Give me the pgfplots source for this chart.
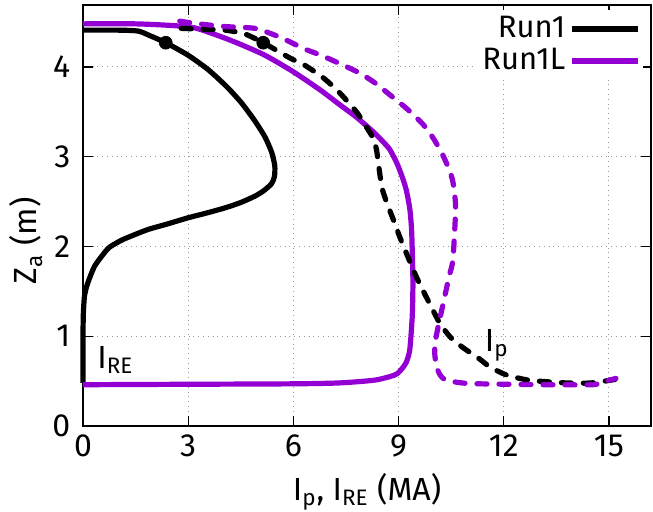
\documentclass[border=0pt]{standalone}
\usepackage{fontspec}
\setmainfont{Fira Sans}
\usepackage{pgfplots}
\pgfplotsset{compat=1.18}
\definecolor{dviolet}{HTML}{9400D3}
\begin{document}
\begin{tikzpicture}
\fontsize{15.5}{18}\selectfont
\begin{axis}[
  name=ax,
  scale only axis,
  width=284pt, height=210.5pt,
  xmin=0, xmax=16.2, ymin=0, ymax=4.69,
  xtick={0,3,6,9,12,15}, ytick={0,1,2,3,4},
  /pgf/number format/assume math mode=true,
  tick label style={font=\fontsize{16}{18}\selectfont},
  yticklabel style={xshift=-1pt},
  xticklabel style={yshift=1pt},
  tick align=inside, major tick length=5pt,
  tick style={black, line width=0.6pt},
  axis line style={line width=0.8pt},
  grid=major,
  major grid style={dotted, gray!80, line width=0.5pt},
  every axis y label/.style={at={(axis description cs:-0.1,0.44)}, rotate=90, anchor=center},
  every axis x label/.style={at={(axis description cs:0.5,-0.157)}, anchor=center},
  xlabel={I\textsubscript{p}, I\textsubscript{RE} (MA)},
  ylabel={Z\textsubscript{a} (m)},
  label style={font=\fontsize{16}{18}\selectfont},
  legend plot pos=right,
  legend cell align=right,
  legend style={draw=none, fill=white, at={(axis cs:15.97,4.64)}, anchor=north east,
    inner sep=1pt, row sep=-1pt, font=\fontsize{15.5}{18}\selectfont},
  legend image code/.code={\draw[#1] (0pt,0pt) -- (33pt,0pt);},
  clip=false,
]
% Run1 I_RE (solid black)
\addplot[black, line width=2.6pt, line join=round, smooth, tension=0.4] coordinates {
(0,4.41) (1.0,4.41) (1.57,4.40) (1.9,4.35) (2.36,4.27) (3.0,4.13) (3.57,3.97) (4.1,3.78) (4.52,3.60) (4.9,3.40) (5.19,3.22) (5.38,3.05) (5.47,2.90) (5.46,2.78) (5.38,2.70) (5.15,2.62) (4.90,2.56) (4.5,2.49) (4.05,2.43) (3.5,2.37) (3.0,2.32) (2.4,2.25) (1.86,2.19) (1.4,2.12) (1.10,2.07) (0.75,1.99) (0.53,1.89) (0.33,1.78) (0.2,1.66) (0.1,1.55) (0.04,1.44) (0.01,1.25) (0,1.0) (0,0.48)
};
\addlegendentry{Run1}
% Run1L I_RE (solid violet)
\addplot[dviolet, line width=2.6pt, line join=round, smooth, tension=0.4] coordinates {
(0,4.48) (1.5,4.48) (2.6,4.46) (3.24,4.43) (4.19,4.30) (5.14,4.14) (5.9,3.97) (6.37,3.85) (6.85,3.72) (7.32,3.58) (7.8,3.44) (8.27,3.28) (8.55,3.17) (8.75,3.08) (8.95,2.93) (9.10,2.78) (9.22,2.63) (9.32,2.42) (9.37,2.2) (9.39,1.96) (9.41,1.59) (9.39,1.22) (9.32,0.85) (9.22,0.71) (9.10,0.64) (8.95,0.58) (8.75,0.55) (8.3,0.51) (7.32,0.48) (6,0.47) (3,0.465) (0,0.46)
};
\addlegendentry{Run1L}
% Run1 I_p (dashed black)
\addplot[forget plot, black, line width=2.6pt, line cap=round, dash pattern=on 5pt off 6pt, smooth, tension=0.4] coordinates {
(2.8,4.43) (3.38,4.42) (4.05,4.41) (4.6,4.37) (5.14,4.27) (5.90,4.10) (6.32,4.02) (6.85,3.88) (7.3,3.72) (7.80,3.50) (8.1,3.32) (8.27,3.21) (8.37,3.08) (8.43,2.91) (8.53,2.65) (8.7,2.45) (8.85,2.30) (9.03,2.11) (9.25,1.90) (9.51,1.66) (9.8,1.43) (10.17,1.15) (10.5,0.98) (10.85,0.87) (11.3,0.75) (11.6,0.66) (12.07,0.57) (12.73,0.51) (13.78,0.48) (14.5,0.48) (15.2,0.52)
};
% Run1L I_p (dashed violet)
\addplot[forget plot, dviolet, line width=2.6pt, line cap=round, dash pattern=on 5pt off 6pt, smooth, tension=0.4] coordinates {
(2.76,4.51) (3.3,4.48) (4.05,4.45) (4.90,4.43) (5.5,4.35) (5.9,4.28) (6.32,4.20) (6.85,4.12) (7.80,3.95) (8.3,3.83) (8.75,3.69) (9.25,3.53) (9.70,3.36) (10.0,3.20) (10.26,3.02) (10.45,2.85) (10.55,2.72) (10.62,2.50) (10.62,2.33) (10.55,1.85) (10.45,1.68) (10.36,1.52) (10.17,1.18) (10.05,0.95) (10.03,0.82) (10.08,0.66) (10.2,0.56) (10.36,0.51) (10.8,0.48) (11.31,0.47) (13.2,0.46) (14.54,0.46) (14.7,0.48) (14.9,0.50) (15.2,0.53)
};
% markers
\addplot[forget plot, only marks, mark=*, mark size=3.2pt, black] coordinates {(2.36,4.27) (5.14,4.27)};
\node[anchor=west, inner sep=0pt, font=\fontsize{16}{18}\selectfont] at (axis cs:0.4,0.74) {I\textsubscript{RE}};
\node[anchor=west, inner sep=0pt, font=\fontsize{16}{18}\selectfont] at (axis cs:11.45,0.90) {I\textsubscript{p}};
\end{axis}
\pgfresetboundingbox
\path (ax.south west) ++(-41.5pt,-42.5pt) rectangle ++(326.5pt,255.5pt);
\end{tikzpicture}
\end{document}
